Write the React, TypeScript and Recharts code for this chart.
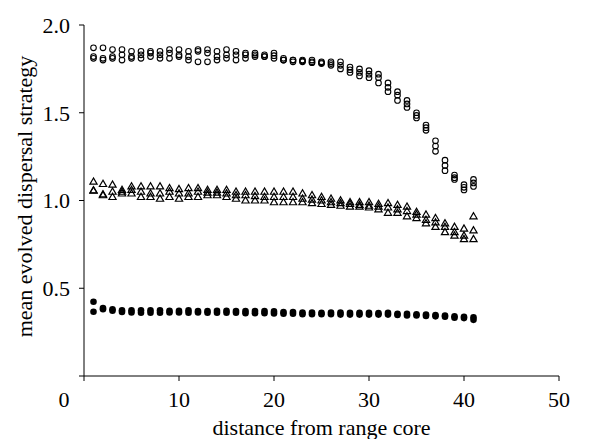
import { ScatterChart, Scatter, XAxis, YAxis, Label } from 'recharts';

const distance = [
  1, 2, 3, 4, 5, 6, 7, 8, 9, 10, 11, 12, 13, 14, 15, 16, 17, 18, 19, 20,
  21, 22, 23, 24, 25, 26, 27, 28, 29, 30, 31, 32, 33, 34, 35, 36, 37, 38, 39, 40, 41,
];

// open circles
const openHigh = [
  1.87, 1.87, 1.86, 1.86, 1.85, 1.85, 1.85, 1.85, 1.86, 1.86, 1.85, 1.86, 1.86, 1.85, 1.86, 1.85, 1.84, 1.84, 1.83, 1.84,
  1.81, 1.8, 1.8, 1.8, 1.79, 1.79, 1.79, 1.76, 1.75, 1.74, 1.72, 1.67, 1.62, 1.57, 1.5, 1.43, 1.34, 1.23, 1.145, 1.09, 1.12,
];
const openMid = [
  1.82, 1.81, 1.82, 1.83, 1.82, 1.83, 1.84, 1.83, 1.84, 1.83, 1.82, 1.85, 1.84, 1.82, 1.83, 1.83, 1.83, 1.83, 1.82, 1.825,
  1.8, 1.8, 1.795, 1.79, 1.785, 1.78, 1.77, 1.745, 1.73, 1.72, 1.7, 1.645, 1.6, 1.55, 1.485, 1.415, 1.31, 1.2, 1.13, 1.075, 1.1,
];
const openLow = [
  1.81, 1.8, 1.81, 1.8, 1.81, 1.81, 1.82, 1.81, 1.81, 1.82, 1.8, 1.79, 1.79, 1.8, 1.81, 1.8, 1.81, 1.82, 1.82, 1.81,
  1.8, 1.79, 1.79, 1.785, 1.78, 1.77, 1.75, 1.73, 1.71, 1.7, 1.67, 1.62, 1.57, 1.53, 1.47, 1.4, 1.28, 1.17, 1.12, 1.06, 1.08,
];

// triangles
const triHigh = [
  1.107, 1.094, 1.09, 1.06, 1.08, 1.08, 1.08, 1.08, 1.07, 1.065, 1.07, 1.07, 1.06, 1.06, 1.06, 1.05, 1.05, 1.05, 1.05, 1.05,
  1.05, 1.05, 1.04, 1.03, 1.02, 1.01, 1.0, 0.99, 0.99, 0.99, 0.98, 0.985, 0.975, 0.965, 0.935, 0.92, 0.9, 0.87, 0.85, 0.84, 0.91,
];
const triMid = [
  1.058, 1.035, 1.05, 1.05, 1.06, 1.05, 1.04, 1.04, 1.05, 1.04, 1.04, 1.05, 1.045, 1.045, 1.04, 1.03, 1.03, 1.025, 1.02, 1.02,
  1.02, 1.02, 1.01, 1.005, 1.0, 0.99, 0.985, 0.98, 0.975, 0.97, 0.965, 0.96, 0.95, 0.94, 0.92, 0.89, 0.875, 0.85, 0.82, 0.8, 0.83,
];
const triLow = [
  1.056, 1.03, 1.02, 1.04, 1.04, 1.02, 1.02, 1.01, 1.02, 1.01, 1.02, 1.02, 1.03, 1.03, 1.02, 1.01, 1.0, 1.0, 1.0, 0.99,
  0.99, 0.99, 0.99, 0.985, 0.98, 0.975, 0.97, 0.965, 0.965, 0.96, 0.95, 0.93, 0.93, 0.91, 0.9, 0.87, 0.85, 0.82, 0.8, 0.78, 0.78,
];

// filled circles
const filledHigh = [
  0.423, 0.387, 0.38, 0.375, 0.375, 0.375, 0.375, 0.375, 0.372, 0.372, 0.375, 0.37, 0.37, 0.372, 0.372, 0.37, 0.37, 0.37, 0.37, 0.368,
  0.365, 0.365, 0.362, 0.362, 0.36, 0.362, 0.362, 0.36, 0.36, 0.36, 0.358, 0.36, 0.355, 0.355, 0.352, 0.35, 0.348, 0.345, 0.34, 0.338, 0.335,
];
const filledLow = [
  0.366, 0.38, 0.372, 0.365, 0.362, 0.36, 0.36, 0.36, 0.362, 0.362, 0.36, 0.362, 0.36, 0.36, 0.36, 0.36, 0.358, 0.358, 0.358, 0.356,
  0.355, 0.355, 0.352, 0.352, 0.352, 0.352, 0.35, 0.35, 0.35, 0.35, 0.35, 0.35, 0.348, 0.345, 0.345, 0.342, 0.34, 0.338, 0.332, 0.33, 0.32,
];

const xTicks = [0, 10, 20, 30, 40, 50];
const yTicks = [0, 0.5, 1, 1.5, 2];
const xTitle = 'distance from range core';
const yTitle = 'mean evolved dispersal strategy';

const FONT = '"Liberation Serif", "Times New Roman", serif';

const toPoints = (values: number[]) => distance.map((d, i) => ({ x: d, y: values[i] }));

const OpenCircle = (props: any) => (
  <circle cx={props.cx} cy={props.cy} r={2.8} fill="none" stroke="#000" strokeWidth={1.1} />
);

const FilledCircle = (props: any) => (
  <circle cx={props.cx} cy={props.cy} r={3.3} fill="#000" stroke="none" />
);

const Triangle = (props: any) => {
  const { cx, cy } = props;
  return (
    <polygon
      points={`${cx},${cy - 3.7} ${cx - 3.6},${cy + 2.5} ${cx + 3.6},${cy + 2.5}`}
      fill="none"
      stroke="#000"
      strokeWidth={1.2}
    />
  );
};

const XTick = (props: any) => {
  const { x, y, payload } = props;
  const shift = payload.value === 0 ? -20 : 0;
  return (
    <text x={x + shift} y={y} dy="0.71em" textAnchor="middle" fontFamily={FONT} fontSize={22} fill="#000">
      {payload.value}
    </text>
  );
};

const YTitle = (props: any) => {
  const { viewBox } = props;
  const cx = viewBox.x + 24;
  const cy = viewBox.y + viewBox.height / 2 - 4;
  return (
    <text
      x={cx}
      y={cy}
      transform={`rotate(-90, ${cx}, ${cy})`}
      textAnchor="middle"
      dominantBaseline="central"
      fontFamily={FONT}
      fontSize={22}
      fill="#000"
    >
      {yTitle}
    </text>
  );
};

export default function App() {
  return (
    <div style={{ position: 'absolute', left: 0, top: 0, background: '#fff' }}>
      <ScatterChart width={610} height={439} margin={{ top: 25, right: 51, bottom: 0, left: 0 }}>
        <XAxis
          type="number"
          dataKey="x"
          domain={[0, 50]}
          ticks={xTicks}
          height={63}
          stroke="#000"
          tickSize={5}
          tickMargin={10}
          tick={<XTick />}
        >
          <Label value={xTitle} position="insideBottom" offset={4} fontFamily={FONT} fontSize={22} fill="#000" />
        </XAxis>
        <YAxis
          type="number"
          dataKey="y"
          domain={[0, 2]}
          ticks={yTicks}
          width={84}
          stroke="#000"
          tickSize={5}
          tickMargin={9}
          tickFormatter={(v: number) => (v === 0 ? '' : v.toFixed(1))}
          tick={{ fontFamily: FONT, fontSize: 22, fill: '#000' }}
        >
          <Label content={<YTitle />} />
        </YAxis>
        <Scatter data={toPoints(openHigh)} shape={<OpenCircle />} isAnimationActive={false} />
        <Scatter data={toPoints(openMid)} shape={<OpenCircle />} isAnimationActive={false} />
        <Scatter data={toPoints(openLow)} shape={<OpenCircle />} isAnimationActive={false} />
        <Scatter data={toPoints(triHigh)} shape={<Triangle />} isAnimationActive={false} />
        <Scatter data={toPoints(triMid)} shape={<Triangle />} isAnimationActive={false} />
        <Scatter data={toPoints(triLow)} shape={<Triangle />} isAnimationActive={false} />
        <Scatter data={toPoints(filledHigh)} shape={<FilledCircle />} isAnimationActive={false} />
        <Scatter data={toPoints(filledLow)} shape={<FilledCircle />} isAnimationActive={false} />
      </ScatterChart>
    </div>
  );
}
